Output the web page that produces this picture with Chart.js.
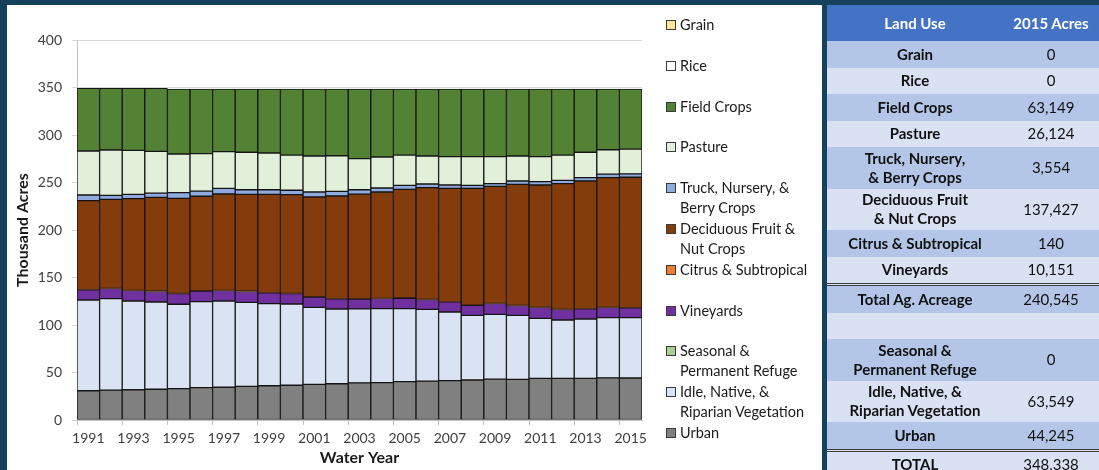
<!DOCTYPE html>
<html>
<head>
<meta charset="utf-8">
<title>Land Use by Water Year</title>
<script src="https://cdn.jsdelivr.net/npm/chart.js@4.4.0/dist/chart.umd.min.js"></script>
<style>
  html, body { margin: 0; padding: 0; }
  body {
    width: 1099px; height: 470px; overflow: hidden; position: relative;
    background: #15415d;
    font-family: Lato, "Open Sans", sans-serif;
  }
  #panel { position: absolute; left: 7px; top: 5px; width: 815px; height: 465px; background: #fff; }
  #chartBox { position: absolute; left: 0; top: 0; width: 650px; height: 463px; }
  #legend { position: absolute; left: 0; top: 0; width: 815px; height: 465px; pointer-events: none; }
  .lg-item { position: absolute; left: 659px; font-size: 14.5px; line-height: 20px; color: #1a1a1a; white-space: nowrap; }
  .lg-box { position: absolute; left: 0; top: 5px; width: 8px; height: 8px; border: 1px solid #3a3a3a; }
  .lg-text { position: absolute; left: 14px; top: 0; }

  #landTable {
    position: absolute; left: 827px; top: 5px; width: 272px;
    border-collapse: collapse; table-layout: fixed;
    font-size: 15px; color: #111;
  }
  #landTable td, #landTable th { padding: 0; text-align: center; line-height: 19px; }
  #landTable th { background: #4472c4; color: #fff; font-weight: bold; height: 36px; }
  #landTable td.lbl { font-weight: bold; }
  #landTable tr.dark td { background: #b4c6e7; }
  #landTable tr.light td { background: #d9e1f2; }
  #landTable tr.one td { height: 26.5px; }
  #landTable tr.two td { height: 41.5px; }
  #landTable tr.sep td { border-top: 3px double #3c3c3c; }
</style>
</head>
<body>
<div id="panel">
  <div id="chartBox"><canvas id="landChart"></canvas></div>
  <div id="legend"></div>
</div>
<table id="landTable"></table>

<script>
// Water years on the x axis
const years = ['1991', '1992', '1993', '1994', '1995', '1996', '1997', '1998', '1999', '2000',
  '2001', '2002', '2003', '2004', '2005', '2006', '2007', '2008', '2009', '2010',
  '2011', '2012', '2013', '2014', '2015'];

// Acreage per land use, thousand acres (bottom of the stack first)
const urban = [30.8, 31.4, 31.8, 32.4, 33.1, 34.0, 34.5, 35.4, 36.1, 36.6, 37.5, 38.2, 39.1,
  39.4, 40.4, 41.0, 41.4, 42.1, 43.0, 42.8, 43.8, 43.9, 43.9, 44.4, 44.245];
const idleNative = [95.5, 96.3, 93.5, 91.8, 88.7, 90.6, 90.8, 88.5, 86.4, 85.5, 81.1, 78.6, 77.8,
  77.8, 76.8, 75.5, 72.3, 68.1, 68.2, 67.4, 63.2, 61.4, 62.4, 63.3, 63.549];
const refuge = [0, 0, 0, 0, 0, 0, 0, 0, 0, 0, 0, 0, 0, 0, 0, 0, 0, 0, 0, 0, 0, 0, 0, 0, 0];
const vineyards = [10.7, 10.7, 11.0, 11.1, 11.3, 11.0, 11.0, 11.4, 11.3, 11.0, 10.7, 10.7, 10.4,
  10.7, 11.0, 10.3, 10.7, 10.6, 11.4, 10.3, 11.4, 11.0, 10.7, 10.7, 10.151];
const citrus = [0.2, 0.2, 0.2, 0.2, 0.2, 0.2, 0.2, 0.2, 0.2, 0.2, 0.2, 0.2, 0.2,
  0.2, 0.2, 0.2, 0.2, 0.2, 0.2, 0.2, 0.2, 0.2, 0.2, 0.2, 0.14];
const deciduous = [93.7, 93.7, 96.5, 98.9, 100.0, 99.7, 101.4, 102.0, 103.5, 103.9, 105.2, 108.1, 110.2,
  111.9, 114.4, 117.6, 119.3, 122.9, 123.1, 127.4, 128.8, 132.3, 134.4, 136.5, 137.427];
const truckBerry = [5.9, 4.2, 4.5, 4.5, 6.0, 5.5, 6.0, 4.9, 4.9, 4.6, 5.3, 4.9, 4.7,
  4.2, 4.2, 3.8, 3.5, 3.1, 2.9, 3.5, 3.5, 3.5, 3.5, 3.8, 3.554];
const pasture = [46.4, 47.7, 46.4, 43.9, 40.7, 39.4, 38.6, 39.4, 38.7, 37.1, 37.9, 37.5, 32.8,
  32.6, 31.9, 29.5, 29.8, 30.2, 28.4, 26.3, 26.3, 26.6, 26.7, 25.6, 26.124];
const fieldCrops = [65.8, 64.8, 65.1, 66.2, 68.3, 67.9, 65.8, 66.5, 67.2, 69.4, 70.4, 70.1, 73.1,
  71.5, 69.4, 70.4, 71.1, 71.1, 71.1, 70.4, 71.1, 69.4, 66.5, 63.8, 63.149];
const rice = [0, 0, 0, 0, 0, 0, 0, 0, 0, 0, 0, 0, 0, 0, 0, 0, 0, 0, 0, 0, 0, 0, 0, 0, 0];
const grain = [0, 0, 0, 0, 0, 0, 0, 0, 0, 0, 0, 0, 0, 0, 0, 0, 0, 0, 0, 0, 0, 0, 0, 0, 0];

// y axis ticks
const yTicks = [0, 50, 100, 150, 200, 250, 300, 350, 400];

// 2015 summary table
const tableLabels = ['Grain', 'Rice', 'Field Crops', 'Pasture', 'Truck, Nursery,\n& Berry Crops',
  'Deciduous Fruit\n& Nut Crops', 'Citrus & Subtropical', 'Vineyards', 'Total Ag. Acreage', '',
  'Seasonal &\nPermanent Refuge', 'Idle, Native, &\nRiparian Vegetation', 'Urban', 'TOTAL'];
const tableAcres = ['0', '0', '63,149', '26,124', '3,554', '137,427', '140', '10,151', '240,545', '',
  '0', '63,549', '44,245', '348,338'];

const series = [
  { lines: ['Urban'], data: urban, color: '#808080' },
  { lines: ['Idle, Native, &', 'Riparian Vegetation'], data: idleNative, color: '#dae3f3' },
  { lines: ['Seasonal &', 'Permanent Refuge'], data: refuge, color: '#a9d18e' },
  { lines: ['Vineyards'], data: vineyards, color: '#7030a0' },
  { lines: ['Citrus & Subtropical'], data: citrus, color: '#ed7d31' },
  { lines: ['Deciduous Fruit &', 'Nut Crops'], data: deciduous, color: '#843c0c' },
  { lines: ['Truck, Nursery, &', 'Berry Crops'], data: truckBerry, color: '#8faadc' },
  { lines: ['Pasture'], data: pasture, color: '#e2f0d9' },
  { lines: ['Field Crops'], data: fieldCrops, color: '#548235' },
  { lines: ['Rice'], data: rice, color: '#ffffff' },
  { lines: ['Grain'], data: grain, color: '#ffe699' }
];

const tickFont = { family: 'Lato', size: 14 };
const titleFont = { family: 'Lato', size: 16, weight: 'bold' };

const chart = new Chart(document.getElementById('landChart'), {
  type: 'bar',
  data: {
    labels: years,
    datasets: series.map(s => ({
      label: s.lines.join(' '),
      data: s.data,
      backgroundColor: s.color,
      borderColor: '#141414',
      borderWidth: 1,
      borderSkipped: false,
      categoryPercentage: 1.0,
      barPercentage: 1.0
    }))
  },
  options: {
    responsive: true,
    maintainAspectRatio: false,
    animation: false,
    layout: { padding: { left: 0, right: 15, top: 35, bottom: 0 } },
    plugins: { legend: { display: false }, tooltip: { enabled: false } },
    scales: {
      x: {
        stacked: true,
        border: { color: '#bfbfbf' },
        grid: {
          offset: true,
          drawOnChartArea: false,
          tickLength: 5,
          color: ctx => (ctx.type === 'tick' && ctx.index % 2 === 0) ? '#bfbfbf' : 'rgba(0,0,0,0)'
        },
        ticks: {
          autoSkip: false,
          maxRotation: 0,
          padding: 5,
          color: '#404040',
          font: tickFont,
          callback: function (value, index) {
            return index % 2 === 0 ? this.getLabelForValue(value) : '';
          }
        },
        title: { display: true, text: 'Water Year', color: '#1a1a1a', font: titleFont, padding: { top: 0, bottom: 1 } },
        afterFit: scale => { scale.height = 48; }
      },
      y: {
        stacked: true,
        min: 0,
        max: 400,
        afterBuildTicks: scale => { scale.ticks = yTicks.map(v => ({ value: v })); },
        border: { color: '#bfbfbf' },
        grid: { color: '#d9d9d9', tickLength: 5 },
        ticks: { padding: 10, color: '#404040', font: tickFont },
        title: { display: true, text: 'Thousand Acres', color: '#1a1a1a', font: titleFont, padding: { top: 6, bottom: 4 } },
        afterFit: scale => { scale.width = 70; }
      }
    }
  }
});

// legend: top of the stack first, one fixed slot per entry
const legendEl = document.getElementById('legend');
chart.data.datasets.slice().reverse().forEach((ds, i) => {
  const s = series[series.length - 1 - i];
  const item = document.createElement('div');
  item.className = 'lg-item';
  item.style.top = (10 + i * 40.8) + 'px';
  const box = document.createElement('div');
  box.className = 'lg-box';
  box.style.background = ds.backgroundColor;
  const txt = document.createElement('div');
  txt.className = 'lg-text';
  txt.innerHTML = s.lines.join('<br>');
  item.appendChild(box);
  item.appendChild(txt);
  legendEl.appendChild(item);
});

// 2015 acreage table
const table = document.getElementById('landTable');
table.innerHTML = '<colgroup><col style="width:176px"><col style="width:96px"></colgroup>' +
  '<tr><th>Land Use</th><th>2015 Acres</th></tr>';
tableLabels.forEach((label, i) => {
  const tr = document.createElement('tr');
  const cls = [i % 2 === 0 ? 'dark' : 'light', label.includes('\n') ? 'two' : 'one'];
  if (label === 'Total Ag. Acreage' || label === 'TOTAL') cls.push('sep');
  tr.className = cls.join(' ');
  const a = document.createElement('td');
  a.className = 'lbl';
  a.innerHTML = label.split('\n').join('<br>') || '&nbsp;';
  const b = document.createElement('td');
  b.textContent = tableAcres[i];
  tr.appendChild(a);
  tr.appendChild(b);
  table.appendChild(tr);
});
</script>
</body>
</html>
